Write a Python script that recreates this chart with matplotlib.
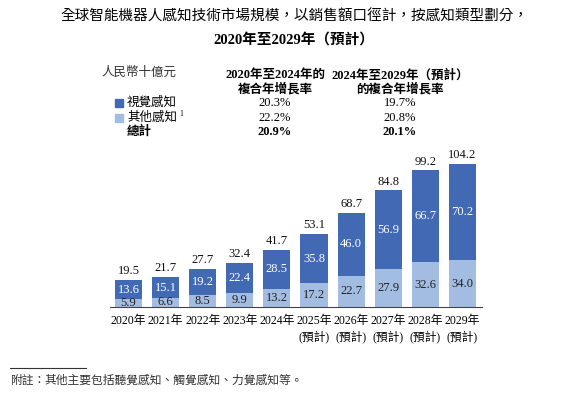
import matplotlib
matplotlib.use("Agg")
import matplotlib.pyplot as plt
from matplotlib.patches import Rectangle
from matplotlib.lines import Line2D

years = ["2020年", "2021年", "2022年", "2023年", "2024年",
         "2025年\n(預計)", "2026年\n(預計)", "2027年\n(預計)", "2028年\n(預計)", "2029年\n(預計)"]
other = [5.9, 6.6, 8.5, 9.9, 13.2, 17.2, 22.7, 27.9, 32.6, 34.0]
vision = [13.6, 15.1, 19.2, 22.4, 28.5, 35.8, 46.0, 56.9, 66.7, 70.2]
totals = [19.5, 21.7, 27.7, 32.4, 41.7, 53.1, 68.7, 84.8, 99.2, 104.2]

series_names = ["視覺感知", "其他感知"]
cagr_1 = ["20.3%", "22.2%", "20.9%"]
cagr_2 = ["19.7%", "20.8%", "20.1%"]

DARK = "#4169B4"
LIGHT = "#A3BDE2"
FAM = ["Liberation Serif", "Noto Sans CJK TC", "DejaVu Sans"]
plt.rcParams["font.family"] = FAM

W, H = 588, 395
fig = plt.figure(figsize=(W / 100, H / 100), dpi=100)

def fx(px):
    return px / W

def fy(py):
    return 1 - py / H

ax = fig.add_axes([fx(110), 88 / H, (482 - 110) / W, 165 / H])
x = list(range(len(years)))
ax.bar(x, other, width=0.73, color=LIGHT)
ax.bar(x, vision, width=0.73, bottom=other, color=DARK)

for i in x:
    ax.text(i, other[i] / 2, f"{other[i]:.1f}", ha="center", va="center",
            fontsize=9, color="#222222")
    ax.text(i, other[i] + vision[i] / 2, f"{vision[i]:.1f}", ha="center", va="center",
            fontsize=9, color="white")
    ax.annotate(f"{totals[i]:.1f}", (i, other[i] + vision[i]), xytext=(0, 2),
                textcoords="offset points", ha="center", va="bottom",
                fontsize=9, color="#111111")

ax.set_xlim(-0.5, 9.53)
ax.set_ylim(0, 120)
ax.set_xticks(x)
ax.set_xticklabels(years, fontsize=8.5, linespacing=1.3)
ax.tick_params(axis="x", length=0, pad=6)
ax.set_yticks([])
for s in ["left", "right", "top"]:
    ax.spines[s].set_visible(False)
ax.spines["bottom"].set_color("#444444")
ax.spines["bottom"].set_linewidth(0.8)

# Title
fig.text(fx(294), fy(17), "全球智能機器人感知技術市場規模，以銷售額口徑計，按感知類型劃分，",
         ha="center", va="center", fontsize=10.5)
fig.text(fx(294), fy(40), "2020年至2029年（預計）", ha="center", va="center",
         fontsize=10.5, fontweight="bold")

# Legend / CAGR table
fig.text(fx(101), fy(73), "人民幣十億元", ha="left", va="center", fontsize=9,
         style="italic", color="#333333")
fig.text(fx(275), fy(75), "2020年至2024年的", ha="center", va="center", fontsize=9, fontweight="bold")
fig.text(fx(275), fy(89), "複合年增長率", ha="center", va="center", fontsize=9, fontweight="bold")
fig.text(fx(400), fy(75), "2024年至2029年（預計）", ha="center", va="center", fontsize=9, fontweight="bold")
fig.text(fx(400), fy(89), "的複合年增長率", ha="center", va="center", fontsize=9, fontweight="bold")

rows_y = [103, 118, 132]
for ry, col in zip(rows_y[:2], [DARK, LIGHT]):
    fig.patches.append(Rectangle((fx(115), fy(ry + 4)), 8 / W, 8 / H,
                                 transform=fig.transFigure, color=col))
fig.text(fx(127), fy(rows_y[0]), series_names[0], ha="left", va="center", fontsize=9)
fig.text(fx(127), fy(rows_y[1]), series_names[1], ha="left", va="center", fontsize=9)
fig.text(fx(179), fy(rows_y[1] - 4), "1", ha="left", va="center", fontsize=5.5)
fig.text(fx(127), fy(rows_y[2]), "總計", ha="left", va="center", fontsize=9, fontweight="bold")
for k, ry in enumerate(rows_y):
    w = "bold" if k == 2 else "normal"
    fig.text(fx(275), fy(ry), cagr_1[k], ha="center", va="center", fontsize=9, fontweight=w)
    fig.text(fx(400), fy(ry), cagr_2[k], ha="center", va="center", fontsize=9, fontweight=w)

# Footnote
fig.lines.append(Line2D([fx(10), fx(86)], [fy(368), fy(368)], transform=fig.transFigure,
                        color="#333333", linewidth=0.8))
fig.text(fx(10), fy(381), "附註：", ha="left", va="center", fontsize=8.5, style="italic",
         color="#333333")
fig.text(fx(44), fy(381), "其他主要包括聽覺感知、觸覺感知、力覺感知等。", ha="left", va="center",
         fontsize=8.5, color="#333333")

fig.savefig("out.png", dpi=100)
